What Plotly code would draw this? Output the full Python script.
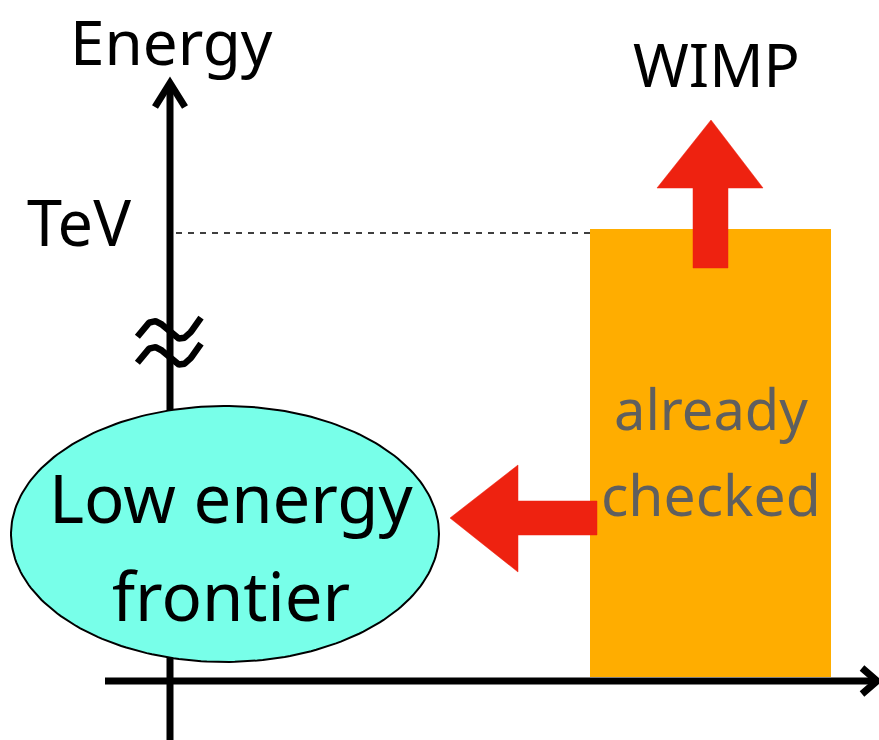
import numpy as np
import plotly.graph_objects as go

W, H = 879, 740

# ---- diagram content (pixel-space coordinates, y downward) ----
axis_label = "Energy"
tick_label = "TeV"
wimp_label = "WIMP"
bar_text = ["already", "checked"]
ellipse_text = ["Low energy", "frontier"]

bar_x_range = [590, 831]
bar_y_range = [229, 677]
tev_level = 233

up_arrow_x = [693, 693, 657, 711, 763, 728, 728, 693]
up_arrow_y = [268, 188, 188, 120, 188, 188, 268, 268]
left_arrow_x = [597, 518, 518, 450, 518, 518, 597, 597]
left_arrow_y = [501, 501, 465, 518, 572, 535, 535, 501]

ellipse_center = [225, 534]
ellipse_radii = [214, 128]

FONT = "Noto Sans"
RED = "#EE2210"
ORANGE = "#FFAD00"
CYAN = "#78FFE9"

fig = go.Figure()

# orange bar
fig.add_trace(go.Bar(
    x=[(bar_x_range[0] + bar_x_range[1]) / 2],
    y=[bar_y_range[1] - bar_y_range[0]],
    base=[bar_y_range[0]],
    width=[bar_x_range[1] - bar_x_range[0]],
    marker=dict(color=ORANGE, line=dict(width=0)),
    hoverinfo="skip", showlegend=False,
))

def line(xs, ys, width=7, color="black", dash=None):
    fig.add_trace(go.Scatter(x=xs, y=ys, mode="lines",
                             line=dict(color=color, width=width, dash=dash),
                             hoverinfo="skip", showlegend=False))

# vertical axis with arrow head
line([170, 170], [740, 84])
line([155, 170, 185], [107, 83, 107])
# horizontal axis with arrow head
line([105, 876], [681, 681])
line([862, 877, 862], [668, 681, 694])
# dashed TeV line
line([176, 590], [tev_level, tev_level], width=1.3, dash="6px,6px")

# approx symbol (two tildes)
t = np.linspace(-0.06, 1.0, 80)
for off in [0, 26]:
    xs = 141 + 60 * t
    ys = 329 + off - 12 * np.sin(2 * np.pi * t + 0.38) - 14 * (t - 0.5)
    line(list(xs), list(ys), width=6.5)

# ellipse
th = np.linspace(0, 2 * np.pi, 240)
fig.add_trace(go.Scatter(
    x=ellipse_center[0] + ellipse_radii[0] * np.cos(th),
    y=ellipse_center[1] + ellipse_radii[1] * np.sin(th),
    mode="lines", fill="toself", fillcolor=CYAN,
    line=dict(color="black", width=2), hoverinfo="skip", showlegend=False))

# red arrows
for xs, ys in [(up_arrow_x, up_arrow_y), (left_arrow_x, left_arrow_y)]:
    fig.add_trace(go.Scatter(x=xs, y=ys, mode="lines", fill="toself",
                             fillcolor=RED, line=dict(color=RED, width=0.5),
                             hoverinfo="skip", showlegend=False))

def text(s, x, y, size, color="black"):
    fig.add_annotation(x=x, y=y, text=s, showarrow=False, xanchor="center",
                       yanchor="middle", borderpad=0,
                       font=dict(family=FONT, size=size, color=color))

text(axis_label, 171, 41, 62)
text(wimp_label, 716, 64, 60)
text(tick_label, 79, 221, 63)
text(bar_text[0], 711, 408, 56, "#5F5F5F")
text(bar_text[1], 711, 494, 57, "#5F5F5F")
text(ellipse_text[0], 231, 497, 67)
text(ellipse_text[1], 231, 595, 67)

fig.update_layout(
    width=W, height=H, margin=dict(l=0, r=0, t=0, b=0),
    paper_bgcolor="white", plot_bgcolor="white",
    xaxis=dict(range=[0, W], visible=False, fixedrange=True),
    yaxis=dict(range=[H, 0], visible=False, fixedrange=True),
    showlegend=False,
)
fig.write_html("out.html", config={"displayModeBar": False},
               post_script="document.body.style.margin='0';document.body.style.overflow='hidden';")
